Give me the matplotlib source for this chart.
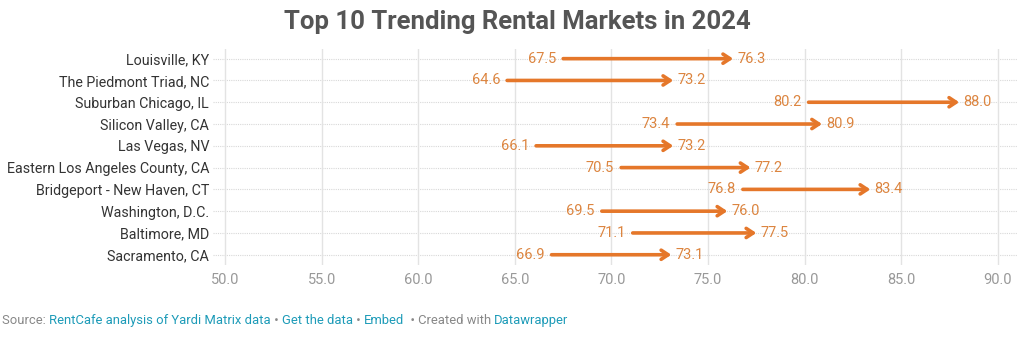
import matplotlib.pyplot as plt

plt.rcParams['font.family'] = ['Roboto', 'DejaVu Sans']

markets = ["Louisville, KY", "The Piedmont Triad, NC", "Suburban Chicago, IL",
           "Silicon Valley, CA", "Las Vegas, NV", "Eastern Los Angeles County, CA",
           "Bridgeport - New Haven, CT", "Washington, D.C.", "Baltimore, MD",
           "Sacramento, CA"]
score_2023 = [67.5, 64.6, 80.2, 73.4, 66.1, 70.5, 76.8, 69.5, 71.1, 66.9]
score_2024 = [76.3, 73.2, 88.0, 80.9, 73.2, 77.2, 83.4, 76.0, 77.5, 73.1]
x_ticks = [50, 55, 60, 65, 70, 75, 80, 85, 90]

orange = "#e5772a"
label_orange = "#dc8540"

fig = plt.figure(figsize=(10.24, 3.37), dpi=100)
ax = fig.add_axes([0.2084, 0.215, 0.785, 0.64])

n = len(markets)
ys = list(range(n))[::-1]

for y, a, b in zip(ys, score_2023, score_2024):
    ax.annotate("", xy=(b, y), xytext=(a, y),
                arrowprops=dict(arrowstyle="->,head_length=0.5,head_width=0.33",
                                color=orange, lw=2.6, shrinkA=0, shrinkB=0))
    ax.annotate(f"{a:.1f}", xy=(a, y), xytext=(-5, 0), textcoords="offset points",
                ha="right", va="center", color=label_orange, fontsize=10.5)
    ax.annotate(f"{b:.1f}", xy=(b, y), xytext=(3, 0), textcoords="offset points",
                ha="left", va="center", color=label_orange, fontsize=10.5)

ax.set_xlim(49.4, 91.0)
ax.set_ylim(-0.45, n - 0.55)
ax.set_yticks(ys)
ax.set_yticklabels(markets, fontsize=10.3, color="#333333")
ax.set_xticks(x_ticks)
ax.set_xticklabels([f"{t:.1f}" for t in x_ticks], fontsize=10.5, color="#999999")
ax.tick_params(axis="y", length=0, pad=3)
ax.tick_params(axis="x", length=0, pad=6)
for s in ax.spines.values():
    s.set_visible(False)

ax.set_axisbelow(True)
ax.grid(axis="x", color="#e3e3e3", lw=1)
for y in ys:
    ax.axhline(y, color="#d8d8d8", lw=0.8, ls=(0, (1, 1)), zorder=0)

fig.text(0.505, 0.935, "Top 10 Trending Rental Markets in 2024", ha="center", va="center",
         fontsize=18.5, fontweight="bold", color="#555555")

# footer, pieces chained one after another
parts = [("Source: ", "#888888"), ("RentCafe analysis of Yardi Matrix data", "#1d9bb8"),
         (" • ", "#888888"), ("Get the data", "#1d9bb8"), (" • ", "#888888"),
         ("Embed", "#1d9bb8"), ("  • Created with ", "#888888"), ("Datawrapper", "#1d9bb8")]
prev = fig.text(0.002, 0.04, parts[0][0], color=parts[0][1], fontsize=9.4, va="baseline")
for txt, col in parts[1:]:
    prev = ax.annotate(txt, xy=(1, 0), xycoords=prev, va="bottom", ha="left", color=col,
                       fontsize=9.4, annotation_clip=False)

fig.savefig("out.png", dpi=100)
